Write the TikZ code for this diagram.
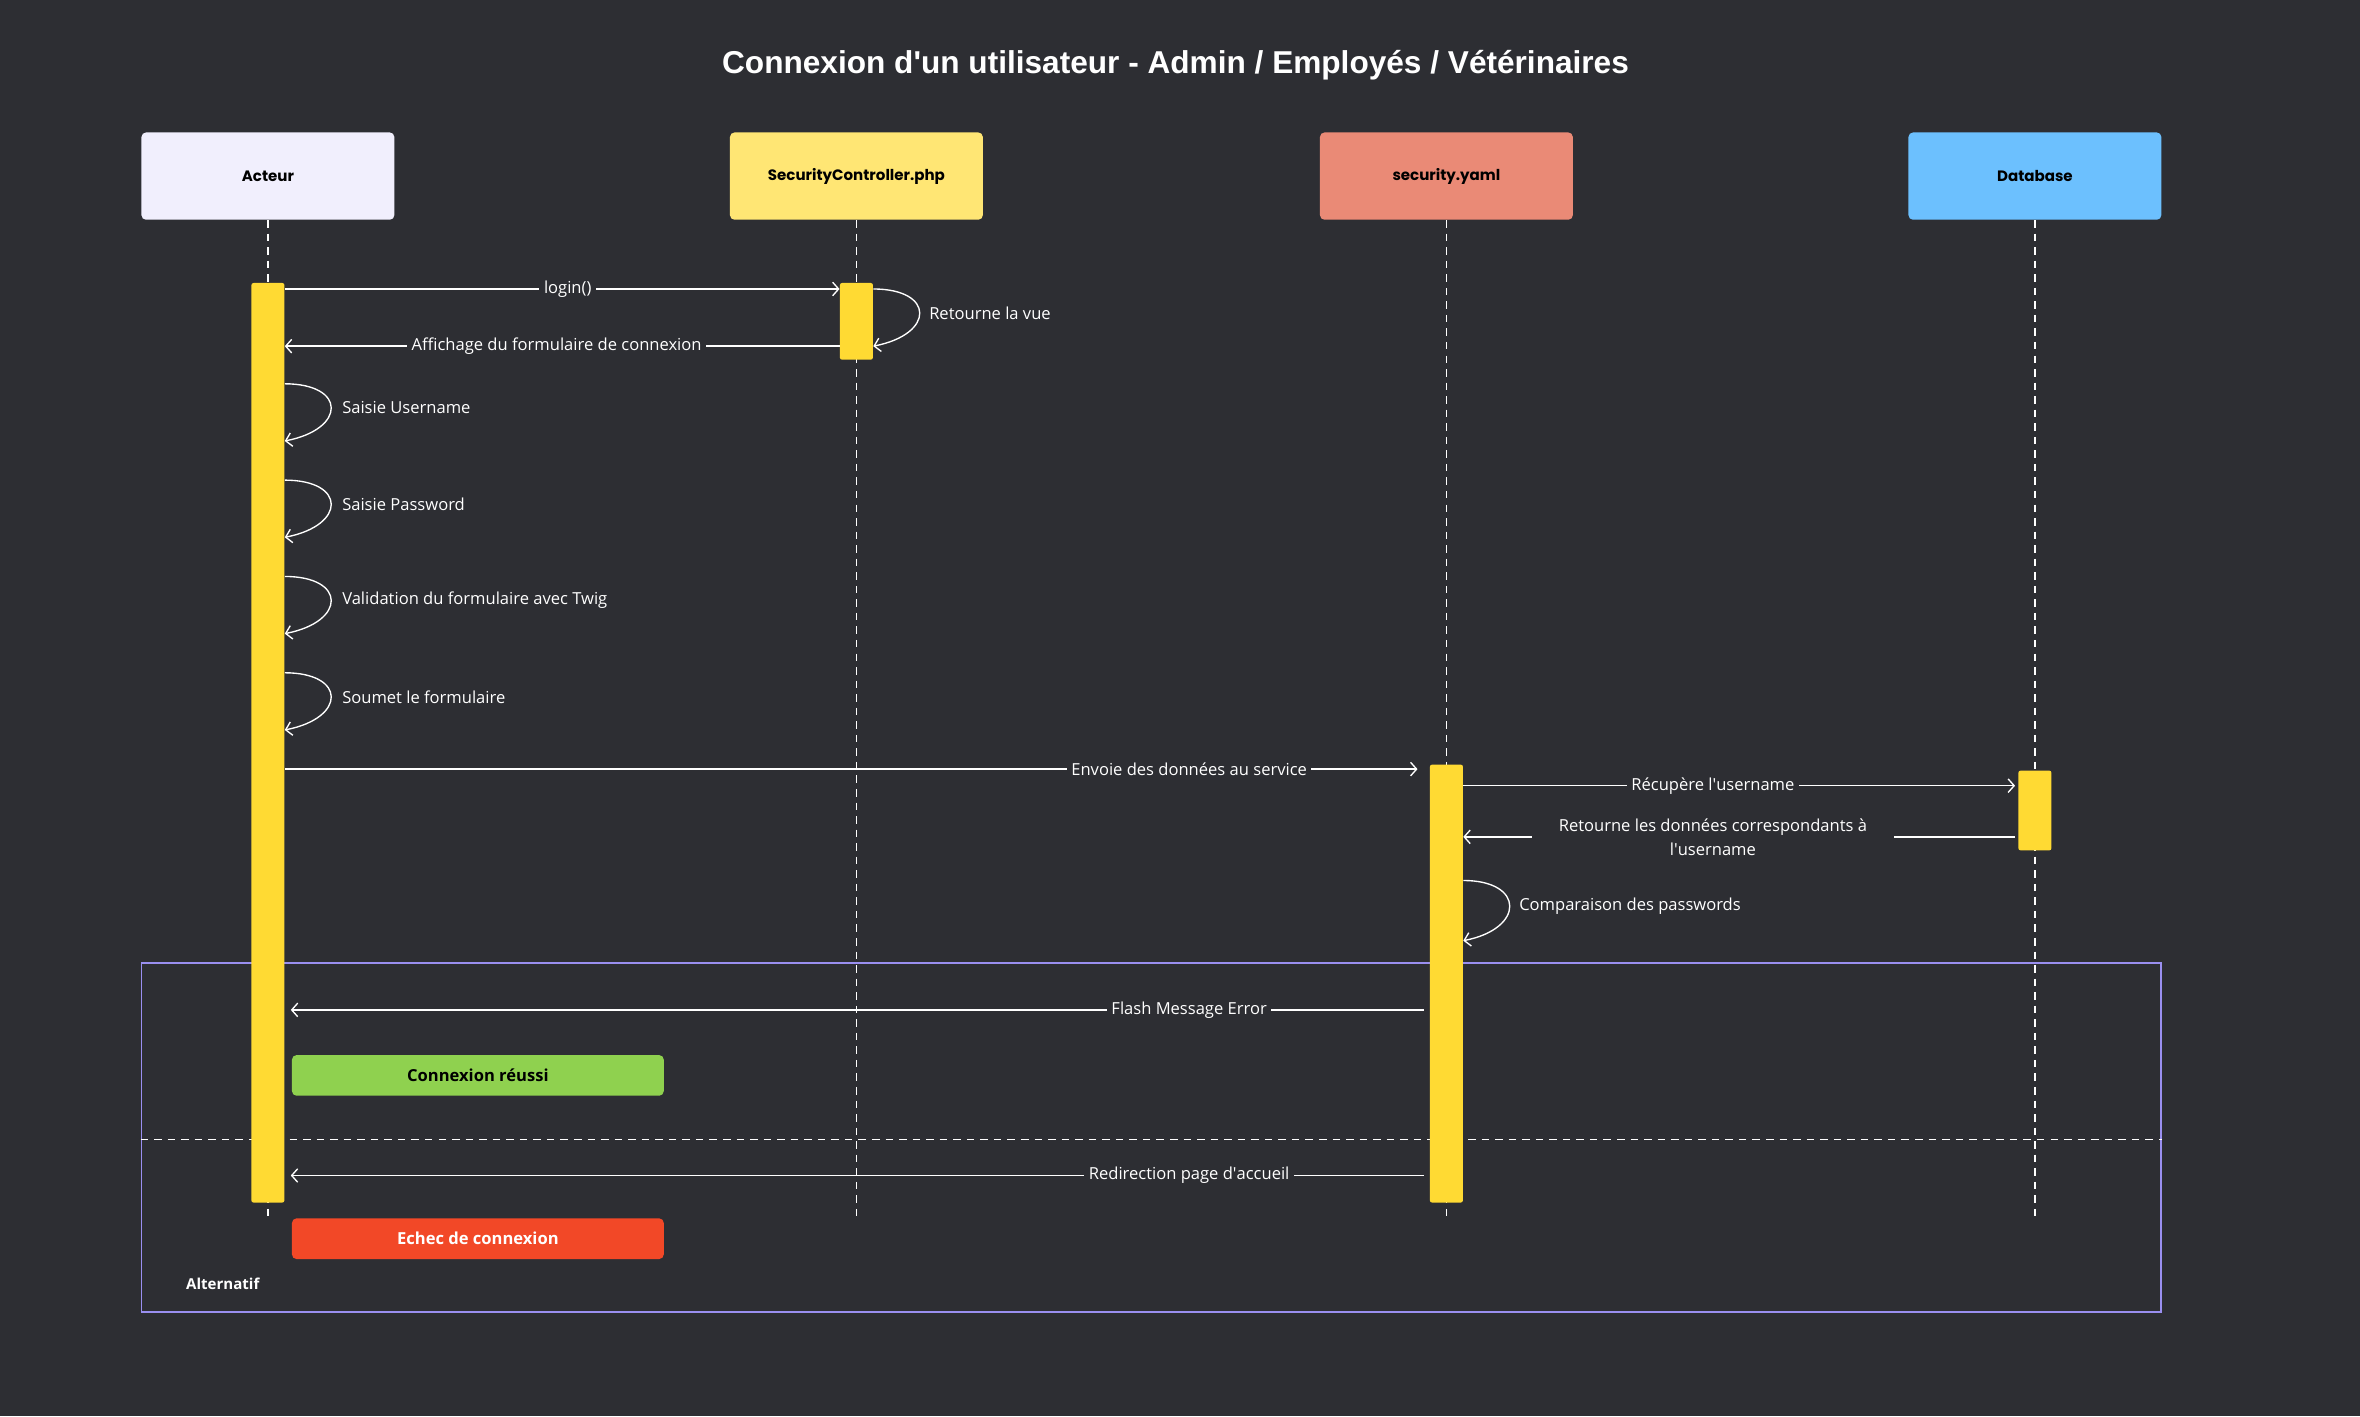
\documentclass[tikz,border=0pt]{standalone}
\usepackage{fontspec}
\setmainfont{Open Sans}
\newfontfamily\headfont{Poppins}
\newfontfamily\titlefont{Liberation Sans}
\usepackage{tikz}
\usetikzlibrary{positioning, arrows.meta, calc}
\definecolor{bgDark}{HTML}{2D2E33}
\definecolor{acteurC}{HTML}{F1EFFD}
\definecolor{ctrlC}{HTML}{FFE674}
\definecolor{yamlC}{HTML}{EA8A76}
\definecolor{dbC}{HTML}{6CC0FE}
\definecolor{barYellow}{HTML}{FFDA33}
\definecolor{okGreen}{HTML}{8FD14F}
\definecolor{koRed}{HTML}{F24827}
\definecolor{altPurple}{HTML}{9A8FF0}

\begin{document}
\begin{tikzpicture}[x=1pt, y=-1pt,
	head/.style={rectangle, rounded corners=3pt, minimum width=168pt, minimum height=58pt, inner sep=0pt, text=black, font=\headfont\bfseries\fontsize{10}{12}\selectfont},
	bar/.style={rectangle, rounded corners=1.5pt, fill=barYellow, minimum width=22pt, inner sep=0pt},
	life/.style={white, line width=0.9pt, dash pattern=on 5pt off 4pt},
	msg/.style={white, line width=0.9pt, -{Straight Barb[length=4pt, width=9pt]}},
	lbl/.style={fill=bgDark, text=white, inner sep=3pt, font=\fontsize{11}{13}\selectfont},
	note/.style={right, text=white, inner sep=0pt, font=\fontsize{11}{13}\selectfont},
	state/.style={rectangle, rounded corners=3pt, minimum width=247pt, minimum height=27pt, inner sep=0pt, font=\bfseries\fontsize{11}{13}\selectfont}]
	% Background
	\fill[bgDark] (0,0) rectangle (1568,941);
	\useasboundingbox (0,0) rectangle (1568,941);
	\node[white, font=\titlefont\bfseries\fontsize{21}{25}\selectfont] (title) at (781,43) {Connexion d\textquotesingle un utilisateur - Admin / Employés / Vétérinaires};
	
	% Participants
	\node[head, fill=acteurC] (acteur) at (178,117) {Acteur};
	\node[head, fill=ctrlC] (ctrl) at (569,117) {SecurityController.php};
	\node[head, fill=yamlC] (yaml) at (961,117) {security.yaml};
	\node[head, fill=dbC] (db) at (1352,117) {Database};
	
	% Rows
	\foreach \n/\y in {login/192, affich/230, saisieU/255, saisieP/319, valid/383, soumet/447, envoie/511, recup/522, retour/556, compar/585, flash/671, divide/757, redir/781, lend/812}
		\coordinate (r\n) at (0,\y);
	
	% Lifelines
	\draw[life] (acteur.south) -- (acteur.south |- rlend);
	\draw[life] (ctrl.south) -- (ctrl.south |- rlend);
	\draw[life] (yaml.south) -- (yaml.south |- rlend);
	\draw[life] (db.south) -- (db.south |- rlend);
	
	% Alternative frame
	\node[draw=altPurple, line width=1.3pt, minimum width=1342pt, minimum height=232pt, inner sep=0pt] (alt) at (765,756) {};
	\draw[white, line width=0.9pt, dash pattern=on 5pt off 4pt] (alt.west |- rdivide) -- (alt.east |- rdivide);
	\node[white, font=\bfseries\fontsize{10}{12}\selectfont] (altlbl) at (148,853) {Alternatif};
	
	% Activation bars
	\node[bar, minimum height=611pt] (barA) at (178,493.5) {};
	\node[bar, minimum height=51pt] (barC) at (569,213.5) {};
	\node[bar, minimum height=291pt] (barY) at (961,653.5) {};
	\node[bar, minimum height=53pt] (barD) at (1352,538.5) {};
	
	% Messages
	\draw[msg] (barA.east |- rlogin) -- node[lbl, pos=0.51] {login()} (barC.west |- rlogin);
	\draw[msg] (barC.east |- rlogin) .. controls +(41,0) and +(41,-8) .. (barC.east |- raffich) node[note, pos=0.5, xshift=6pt] {Retourne la vue};
	\draw[msg] (barC.west |- raffich) -- node[lbl, pos=0.51] {Affichage du formulaire de connexion} (barA.east |- raffich);
	
	\draw[msg] (barA.east |- rsaisieU) .. controls +(41,0) and +(41,-8) .. ++(0,38) node[note, pos=0.5, xshift=7pt] {Saisie Username};
	\draw[msg] (barA.east |- rsaisieP) .. controls +(41,0) and +(41,-8) .. ++(0,38) node[note, pos=0.5, xshift=7pt] {Saisie Password};
	\draw[msg] (barA.east |- rvalid) .. controls +(41,0) and +(41,-8) .. ++(0,38) node[note, pos=0.5, xshift=7pt] {Validation du formulaire avec Twig};
	\draw[msg] (barA.east |- rsoumet) .. controls +(41,0) and +(41,-8) .. ++(0,38) node[note, pos=0.5, xshift=7pt] {Soumet le formulaire};
	
	\draw[msg, shorten >=8pt] (barA.east |- renvoie) -- node[lbl, pos=0.79] {Envoie des données au service} (barY.west |- renvoie);
	\draw[msg, shorten >=2pt] (barY.east |- rrecup) -- node[lbl, pos=0.45] {Récupère l\textquotesingle username} (barD.west |- rrecup);
	\draw[msg, shorten <=2pt] (barD.west |- rretour) -- node[lbl, pos=0.55, align=center, inner xsep=18pt, inner ysep=2pt, font=\fontsize{11}{16}\selectfont] {Retourne les données correspondants à\\l\textquotesingle username} (barY.east |- rretour);
	\draw[msg] (barY.east |- rcompar) .. controls +(41,0) and +(41,-8) .. ++(0,40) node[note, pos=0.5, xshift=6pt] {Comparaison des passwords};
	
	\draw[msg, shorten <=4pt, shorten >=4pt] (barY.west |- rflash) -- node[lbl, pos=0.21] {Flash Message Error} (barA.east |- rflash);
	\draw[msg, shorten <=4pt, shorten >=4pt] (barY.west |- rredir) -- node[lbl, pos=0.21] {Redirection page d\textquotesingle accueil} (barA.east |- rredir);
	
	% Outcomes
	\node[state, fill=okGreen, text=black] (ok) at (317.5,714.5) {Connexion réussi};
	\node[state, fill=koRed, text=white] (ko) at (317.5,823) {Echec de connexion};
\end{tikzpicture}
\end{document}
